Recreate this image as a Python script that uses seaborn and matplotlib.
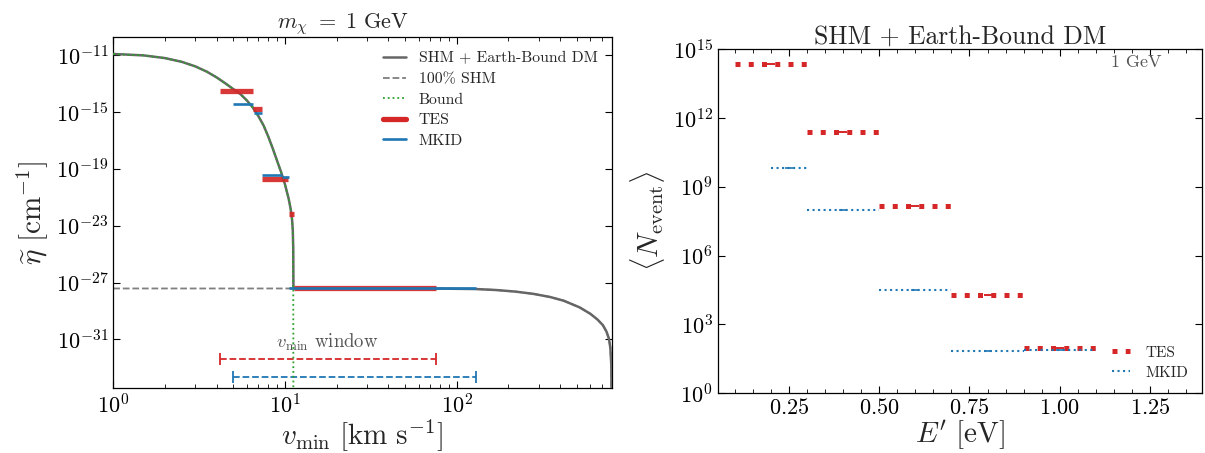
import numpy as np
import pandas as pd
import matplotlib
matplotlib.use("Agg")
import matplotlib.pyplot as plt
import seaborn as sns
from matplotlib.lines import Line2D
from matplotlib.ticker import NullLocator, MultipleLocator, LogLocator

# ---------------- data ----------------
# Left panel: eta-tilde vs v_min (log10 of eta values)
v_bound = [1.0, 1.5, 2.0, 2.5, 3.0, 3.5, 4.0, 4.5, 5.0, 5.5, 6.0, 6.5, 7.0, 7.5,
           8.0, 8.5, 9.0, 9.5, 10.0, 10.5, 10.8, 11.0, 11.1, 11.17]
log_eta_bound = [-10.93, -11.03, -11.22, -11.48, -11.80, -12.17, -12.58, -13.0,
                 -13.4, -13.75, -14.2, -14.7, -15.3, -15.95, -16.75, -17.6,
                 -18.45, -19.25, -20.1, -21.1, -21.85, -22.6, -23.3, -24.6]
v_shm = [1.0, 11.2, 30, 80, 130, 170, 220, 280, 350, 420, 520, 600, 660, 710,
         745, 770, 785, 795, 800]
log_eta_shm = [-27.42, -27.42, -27.42, -27.43, -27.46, -27.53, -27.64, -27.8,
               -28.02, -28.28, -28.75, -29.2, -29.6, -30.0, -30.45, -30.95,
               -31.6, -32.8, -37.0]
v_bound_end = 11.2
log_eta_bound_end = -40.0

tes_v_lo = [4.18, 6.53, 7.33, 10.55, 11.3]
tes_v_hi = [6.53, 7.33, 10.45, 11.3, 76.0]
tes_log_eta = [-13.53, -14.83, -19.70, -22.2, -27.42]
mkid_v_lo = [5.0, 6.6, 7.33, 9.6, 10.6]
mkid_v_hi = [6.53, 7.33, 9.6, 10.5, 130.0]
mkid_log_eta = [-14.44, -15.09, -19.42, -19.6, -27.42]

window_tes = [4.18, 75.7]
window_mkid = [4.96, 129.5]
window_log_y = [-32.35, -33.62]

# Right panel: expected event counts per E' bin
tes_E_lo = [0.1, 0.3, 0.5, 0.7, 0.9]
tes_E_hi = [0.3, 0.5, 0.7, 0.9, 1.1]
tes_E_c = [0.2, 0.4, 0.6, 0.8, 1.0]
tes_N = [2.4e14, 2.4e11, 1.45e8, 2.0e4, 92]
mkid_E_lo = [0.2, 0.3, 0.5, 0.7, 0.9]
mkid_E_hi = [0.3, 0.5, 0.7, 0.9, 1.1]
mkid_E_c = [0.25, 0.4, 0.6, 0.8, 1.0]
mkid_N = [6.5e9, 9.6e7, 3.2e4, 70, 78]

# ---------------- style ----------------
sns.set_theme(style="ticks")
plt.rcParams.update({
    "font.family": "serif",
    "font.serif": ["cmr10", "DejaVu Serif"],
    "mathtext.fontset": "cm",
    "axes.formatter.use_mathtext": True,
    "axes.unicode_minus": True,
    "axes.edgecolor": "black",
    "axes.linewidth": 0.9,
})

RED = "#d62728"
BLUE = "#1f77b4"
GREEN = "#2ca02c"
GRAY = "#666666"

fig = plt.figure(figsize=(12.05, 4.53), dpi=100)
ax1 = fig.add_axes([0.0940, 0.1428, 0.4137, 0.7748])
ax2 = fig.add_axes([0.5956, 0.1318, 0.4019, 0.7594])


def seg_frame(lo, hi, vals, xname, yname):
    rows = []
    for i, (a, b, y) in enumerate(zip(lo, hi, vals)):
        rows.append({xname: a, yname: y, "seg": i})
        rows.append({xname: b, yname: y, "seg": i})
    return pd.DataFrame(rows)


# ---------------- left panel ----------------
comb = pd.DataFrame({
    "v": v_bound + v_shm[1:],
    "eta": [10.0 ** e for e in log_eta_bound + log_eta_shm[1:]],
})
shm = pd.DataFrame({"v": v_shm, "eta": [10.0 ** e for e in log_eta_shm]})
bound = pd.DataFrame({"v": v_bound + [v_bound_end],
                      "eta": [10.0 ** e for e in log_eta_bound + [log_eta_bound_end]]})

sns.lineplot(data=shm, x="v", y="eta", ax=ax1, color="#7f7f7f", lw=1.3,
             linestyle="--", estimator=None, sort=False, zorder=2)
sns.lineplot(data=comb, x="v", y="eta", ax=ax1, color=GRAY, lw=1.8,
             estimator=None, sort=False, zorder=3)
sns.lineplot(data=bound, x="v", y="eta", ax=ax1, color=GREEN, lw=1.3,
             linestyle=":", estimator=None, sort=False, zorder=4)

tes_df = seg_frame(tes_v_lo, tes_v_hi, [10.0 ** e for e in tes_log_eta], "v", "eta")
mkid_df = seg_frame(mkid_v_lo, mkid_v_hi, [10.0 ** e for e in mkid_log_eta], "v", "eta")
sns.lineplot(data=tes_df, x="v", y="eta", units="seg", estimator=None, ax=ax1,
             color=RED, lw=3.8, solid_capstyle="butt", alpha=0.92, zorder=4.5)
sns.lineplot(data=mkid_df, x="v", y="eta", units="seg", estimator=None, ax=ax1,
             color=BLUE, lw=1.9, solid_capstyle="butt", zorder=5)

for (lo, hi), ly, col in zip([window_tes, window_mkid], window_log_y, [RED, BLUE]):
    yv = 10.0 ** ly
    ax1.plot([lo, hi], [yv, yv], color=col, lw=1.3, ls="--")
    ax1.plot([lo, hi], [yv, yv], color=col, lw=0, marker="|", ms=8, mew=1.3)

ax1.text(17.7, 10.0 ** -31.2, r"$v_{\rm min}$ window", color="#555555",
         fontsize=13.5, ha="center", va="center")

ax1.set_xscale("log")
ax1.set_yscale("log")
ax1.set_xlim(1, 800)
ax1.set_ylim(10.0 ** -34.44, 10.0 ** -9.76)
ax1.set_yticks([1e-11, 1e-15, 1e-19, 1e-23, 1e-27, 1e-31])
ax1.yaxis.set_minor_locator(NullLocator())
ax1.xaxis.set_minor_locator(LogLocator(base=10, subs=np.arange(2, 10) * 1.0, numticks=20))
ax1.set_xlabel(r"$v_{\rm min}\ [{\rm km\ s}^{-1}]$", fontsize=21, labelpad=0)
ax1.set_ylabel(r"$\widetilde{\eta}\ [{\rm cm}^{-1}]$", fontsize=21, labelpad=4)
ax1.set_title(r"$m_\chi\ =\ 1\ {\rm GeV}$", fontsize=16, pad=5, x=0.46)

leg1_handles = [
    Line2D([], [], color=GRAY, lw=1.8),
    Line2D([], [], color="#7f7f7f", lw=1.3, ls="--"),
    Line2D([], [], color=GREEN, lw=1.3, ls=":"),
    Line2D([], [], color=RED, lw=3.8),
    Line2D([], [], color=BLUE, lw=1.9),
]
leg1_labels = ["SHM + Earth-Bound DM", "100% SHM", "Bound", "TES", "MKID"]
ax1.legend(leg1_handles, leg1_labels, loc="upper right", frameon=False,
           fontsize=11.3, handlelength=1.5, handletextpad=0.8, labelspacing=0.42,
           borderaxespad=0.5)

# ---------------- right panel ----------------
tes_r = seg_frame(tes_E_lo, tes_E_hi, tes_N, "E", "N")
mkid_r = seg_frame(mkid_E_lo, mkid_E_hi, mkid_N, "E", "N")
sns.lineplot(data=tes_r, x="E", y="N", units="seg", estimator=None, ax=ax2,
             color=RED, lw=3.6, linestyle=":", zorder=3)
sns.lineplot(data=mkid_r, x="E", y="N", units="seg", estimator=None, ax=ax2,
             color=BLUE, lw=1.5, linestyle=":", zorder=4)
ax2.plot(tes_E_c, tes_N, ls="none", marker="_", ms=6, mew=1.4, color=RED, zorder=3)
ax2.plot(mkid_E_c, mkid_N, ls="none", marker="_", ms=6, mew=1.2, color=BLUE, zorder=4)

ax2.set_yscale("log")
ax2.set_xlim(0.0525, 1.394)
ax2.set_ylim(1, 1e15)
ax2.set_yticks([1, 1e3, 1e6, 1e9, 1e12, 1e15])
ax2.yaxis.set_minor_locator(NullLocator())
ax2.xaxis.set_major_locator(MultipleLocator(0.25))
ax2.xaxis.set_minor_locator(MultipleLocator(0.05))
ax2.set_xlabel(r"$E'\ [{\rm eV}]$", fontsize=21, labelpad=0)
ax2.set_ylabel(r"$\langle N_{\rm event}\rangle$", fontsize=21, labelpad=4)
ax2.set_title("SHM + Earth-Bound DM", fontsize=18.5, pad=3)
ax2.text(0.917, 0.961, "1 GeV", transform=ax2.transAxes, ha="right", va="center",
         fontsize=13, color="#555555")

leg2_handles = [
    Line2D([], [], color=RED, lw=3.6, ls=":"),
    Line2D([], [], color=BLUE, lw=1.5, ls=":"),
]
ax2.legend(leg2_handles, ["TES", "MKID"], loc="lower right", frameon=False,
           fontsize=11, handlelength=1.2, handletextpad=1.0, labelspacing=0.4,
           borderaxespad=0.5)

for ax in (ax1, ax2):
    ax.tick_params(which="both", direction="in", top=True, right=True,
                   labelsize=16, color="black", labelcolor="black")
    ax.tick_params(which="major", length=5, width=0.8)
    ax.tick_params(which="minor", length=3, width=0.6)
    for s in ax.spines.values():
        s.set_visible(True)
        s.set_color("black")
    ax.grid(False)

fig.savefig("out.png", dpi=100)
